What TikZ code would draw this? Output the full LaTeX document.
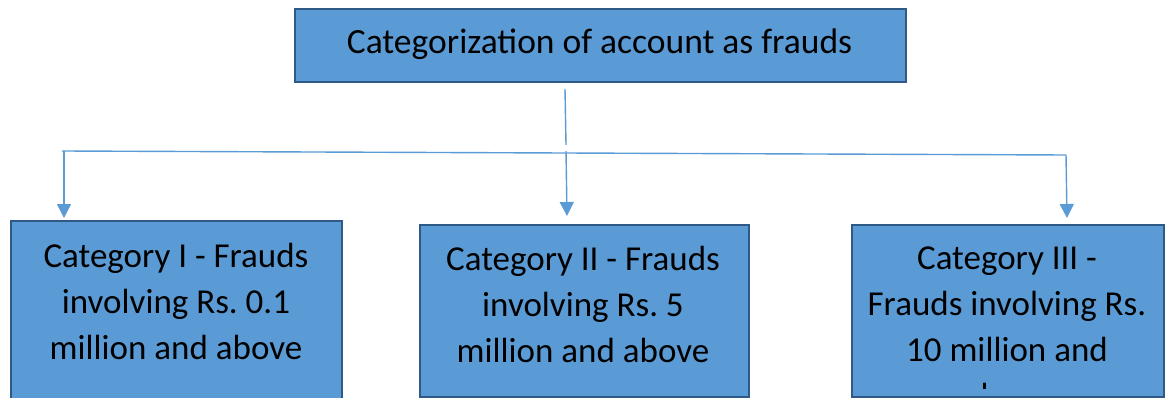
\documentclass[tikz,border=0pt]{standalone}
\usepackage{fontspec}
\setmainfont{Carlito}
\usetikzlibrary{arrows.meta}
\frenchspacing
\definecolor{boxfill}{HTML}{5B9BD5}
\definecolor{boxline}{HTML}{2F5A88}
\definecolor{linkblue}{HTML}{5B9BD5}
\tikzset{
  catbox/.style={draw=boxline, fill=boxfill, line width=2.2pt, inner sep=0pt, anchor=north west},
  boxtext/.style={align=center, font=\fontsize{35}{46}\selectfont, inner sep=0pt, anchor=center},
  link/.style={draw=linkblue, line width=1.4pt},
  linkarrow/.style={link, -{Triangle[width=14pt,length=14pt]}},
}
\begin{document}
\begin{tikzpicture}[x=1pt, y=-1pt]
  \useasboundingbox (0,0) rectangle (1166,398);
  \clip (0,0) rectangle (1166,398);

  % head box
  \node[catbox, minimum width=611pt, minimum height=73pt] (head) at (294,8) {};
  \node[boxtext, font=\fontsize{35.5}{46}\selectfont] (headtext) at (599.5,44) {Categorization of account as frauds};

  % category boxes
  \node[catbox, minimum width=331pt, minimum height=220pt] (cat1) at (10,220) {};
  \node[catbox, minimum width=329pt, minimum height=172pt] (cat2) at (419,224) {};
  \node[catbox, minimum width=312pt, minimum height=172pt] (cat3) at (851,224) {};

  \node[boxtext] (cat1text) at (176,301) {Category I - Frauds\\involving Rs. 0.1\\million and above};
  \node[boxtext] (cat2text) at (583,304) {Category II - Frauds\\involving Rs. 5\\million and above};
  % the last line runs past the box and is cut at its lower edge
  \begin{scope}
    \clip (851,224) rectangle (1163,388);
    \node[boxtext] (cat3text) at (1007,327) {Category III -\\Frauds involving Rs.\\10 million and\\above};
  \end{scope}

  % connectors
  \coordinate (stubtop) at (565,89);
  \coordinate (stubend) at (566,145);
  \coordinate (busleft) at (62,151);
  \coordinate (busright) at (1066,155);
  \coordinate (drop1) at (64,151);
  \coordinate (drop2) at (566,151);
  \coordinate (drop3) at (1066,155);
  \coordinate (tip1) at (64,218);
  \coordinate (tip2) at (567,216);
  \coordinate (tip3) at (1067,218);
  \draw[link] (stubtop) -- (stubend);
  \draw[link] (busleft) -- (busright);
  \draw[linkarrow] (drop1) -- (tip1);
  \draw[linkarrow] (drop2) -- (tip2);
  \draw[linkarrow] (drop3) -- (tip3);
\end{tikzpicture}
\end{document}
